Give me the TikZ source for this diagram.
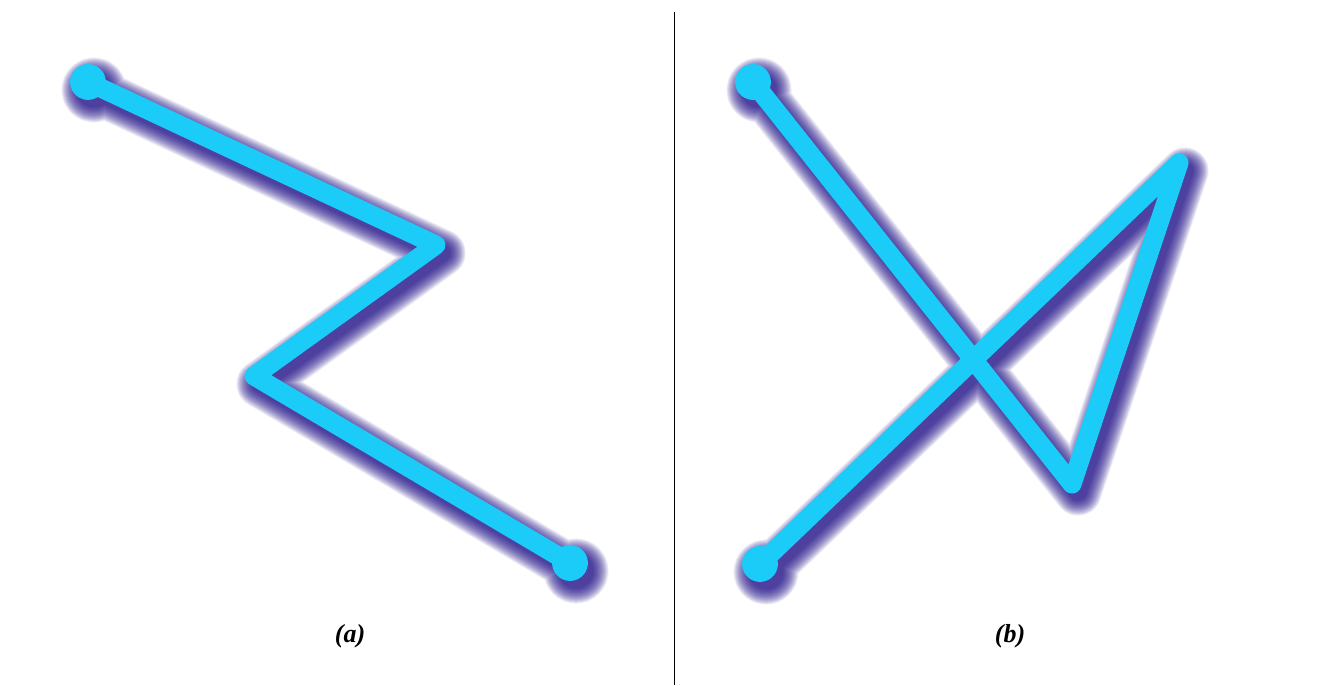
\documentclass[tikz,border=0pt]{standalone}
\usepackage{fontspec}
\setmainfont{Liberation Serif}
\definecolor{neon}{RGB}{28,204,248}
\definecolor{glow}{RGB}{28,12,135}
\tikzset{
  wire/.style={line width=#1, line cap=round, line join=round},
  lbl/.style={font=\fontsize{26}{30}\selectfont\bfseries\itshape, text=black},
}
\begin{document}
\begin{tikzpicture}[x=1pt,y=-1pt]
\useasboundingbox (0,0) rectangle (1335,685);
\fill[white] (0,0) rectangle (1335,685);
% panel a points
\coordinate (a1) at (88,82);
\coordinate (a2) at (436,245);
\coordinate (a3) at (254,376);
\coordinate (a4) at (570,563);
% panel b points
\coordinate (b1) at (753,82);
\coordinate (b2) at (1072,484);
\coordinate (b3) at (1179,163);
\coordinate (b4) at (760,564);
% shadows (soft glow offset down-right)
\foreach \k in {0,2,...,30}{
  \draw[glow, opacity=0.085, wire=17pt+\k pt]
    ([shift={(6,8)}]a1) -- ([shift={(6,8)}]a2) -- ([shift={(6,8)}]a3) -- ([shift={(6,8)}]a4)
    ([shift={(6,8)}]a1) circle[radius=9] ([shift={(6,8)}]a4) circle[radius=9];
  \draw[glow, opacity=0.085, wire=17pt+\k pt]
    ([shift={(6,8)}]b1) -- ([shift={(6,8)}]b2) -- ([shift={(6,8)}]b3) -- ([shift={(6,8)}]b4)
    ([shift={(6,8)}]b1) circle[radius=9] ([shift={(6,8)}]b4) circle[radius=9];
}
% main lines
\draw[neon, wire=19pt] (a1) -- (a2) -- (a3) -- (a4)
  (a1) circle[radius=8.5] (a4) circle[radius=8.5];
\draw[neon, wire=19pt] (b1) -- (b2) -- (b3) -- (b4)
  (b1) circle[radius=8.5] (b4) circle[radius=8.5];
% divider
\coordinate (dtop) at (674,12);
\coordinate (dbot) at (674,685);
\draw[black, line width=0.9pt] (dtop) -- (dbot);
% labels
\node[lbl] (la) at (350,636) {(a)};
\node[lbl] (lb) at (1010,636) {(b)};
\end{tikzpicture}
\end{document}
